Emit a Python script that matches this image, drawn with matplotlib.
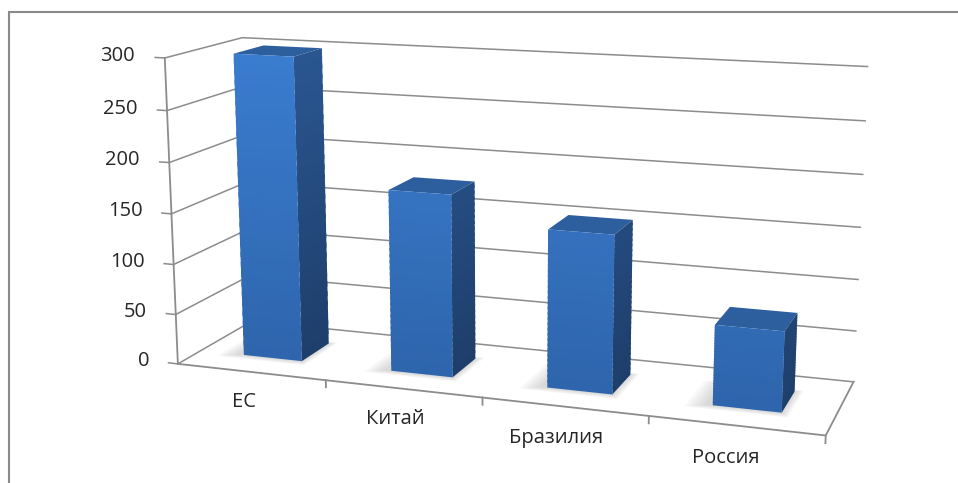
import matplotlib
matplotlib.use("Agg")
import numpy as np
import matplotlib.pyplot as plt
from matplotlib.patches import Rectangle
from mpl_toolkits.mplot3d.art3d import Poly3DCollection

categories = ["ЕС", "Китай", "Бразилия", "Россия"]
values = [300, 178, 152, 76]
value_ticks = [0, 50, 100, 150, 200, 250, 300]

GRID = "#8c8c8c"
TEXT = "#262626"
FRONT_TOP, FRONT_BOTTOM = np.array([58, 124, 207]), np.array([46, 101, 172])
SIDE_TOP, SIDE_BOTTOM = np.array([42, 86, 145]), np.array([30, 62, 106])
TOP_FACE = "#2d5f9f"

plt.rcParams["font.family"] = ["Open Sans", "DejaVu Sans"]

fig = plt.figure(figsize=(9.58, 4.83), dpi=100)
ax = fig.add_axes([0.026, 0.03, 1.0, 1.0], projection="3d", computed_zorder=False)

ax.set_xlim(0, len(categories))
ax.set_ylim(0, 1)
ax.set_zlim(0, value_ticks[-1])
ax.set_box_aspect((4, 1, 1.9), zoom=1.53)
ax.view_init(elev=13, azim=-71)
ax.set_proj_type("persp", focal_length=0.7)
ax.set_axis_off()

n_cat = len(categories)


def line(xs, ys, zs, lw=1.1):
    ax.plot(xs, ys, zs, color=GRID, lw=lw, zorder=1, clip_on=False)


# walls: horizontal gridlines on left and back wall
for v in value_ticks:
    line([0, 0, n_cat], [0, 1, 1], [v, v, v])
    line([-0.065, 0], [0, 0], [v, v])
    ax.text(-0.2, 0, v, str(v), ha="right", va="center", fontsize=14.5,
            color=TEXT, zorder=5)

# value axis and floor outline
line([0, 0], [0, 0], [0, value_ticks[-1]], lw=1.3)
line([0, n_cat, n_cat], [0, 0, 1], [0, 0, 0], lw=1.3)
for k in range(1, n_cat + 1):
    line([k, k], [0, 0], [0, -7], lw=1.3)

steps = 30
x_pad, y0, y1 = 0.3, 0.3, 0.7
for i, (name, v) in enumerate(zip(categories, values)):
    x0, x1 = i + x_pad, i + 1 - x_pad

    # soft shadow on the floor around the base
    for g in np.linspace(0.12, 0.02, 6):
        sx0, sx1 = x0 - g - 0.03, x1 + g * 0.4
        sy0, sy1 = y0 - g * 0.6, y1 + g * 0.3
        shadow = Poly3DCollection([[(sx0, sy0, 0), (sx1, sy0, 0),
                                    (sx1, sy1, 0), (sx0, sy1, 0)]],
                                  facecolors=(0.3, 0.3, 0.3, 0.035),
                                  edgecolors="none", zorder=2)
        shadow.set_clip_on(False)
        ax.add_collection3d(shadow)

    # bar: front, right side and top faces with a vertical gradient
    hs = np.linspace(0, v, steps + 1)
    over = v / steps * 0.5
    faces, colors = [], []
    for a, b in zip(hs[:-1], hs[1:]):
        t = (a + b) / 2 / value_ticks[-1]
        b = min(b + over, v)
        faces.append([(x0, y0, a), (x1, y0, a), (x1, y0, b), (x0, y0, b)])
        colors.append((FRONT_BOTTOM + (FRONT_TOP - FRONT_BOTTOM) * t) / 255)
        faces.append([(x1, y0, a), (x1, y1, a), (x1, y1, b), (x1, y0, b)])
        colors.append((SIDE_BOTTOM + (SIDE_TOP - SIDE_BOTTOM) * t) / 255)
    faces.append([(x0, y0, v), (x1, y0, v), (x1, y1, v), (x0, y1, v)])
    colors.append(matplotlib.colors.to_rgb(TOP_FACE))
    bar = Poly3DCollection(faces, facecolors=colors, edgecolors="none",
                           zorder=3 + i)
    bar.set_clip_on(False)
    ax.add_collection3d(bar)

    ax.text(i + 0.45, 0, -31, name, ha="center", va="center", fontsize=14.5,
            color=TEXT, zorder=5)

# chart area frame
fig.patches.append(Rectangle((9 / 958, -0.1), 1.2, 1.1 - 12 / 483,
                             transform=fig.transFigure, fill=False,
                             ec="#8a8a8a", lw=1.5))

fig.savefig("out.png", dpi=100, facecolor="white")
